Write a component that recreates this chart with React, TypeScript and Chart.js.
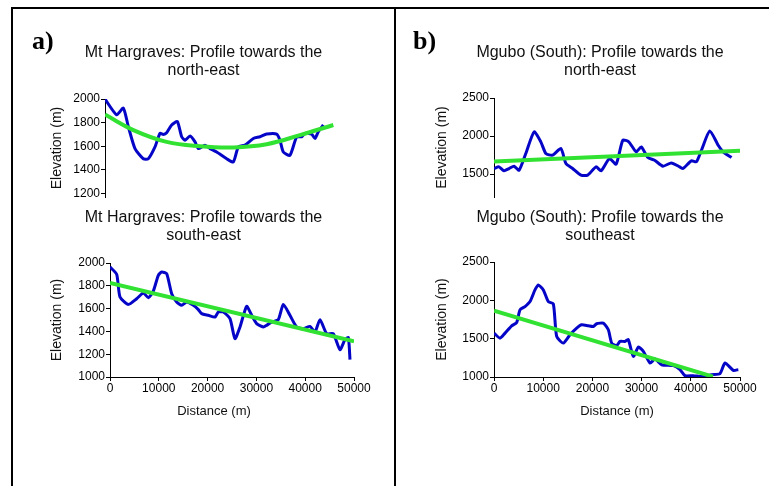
import React, { useEffect, useRef } from "react";
import { Chart, registerables } from "chart.js";

Chart.register(...registerables);

const FONT = '"Liberation Sans", Arial, Helvetica, sans-serif';
const SERIF = '"Liberation Serif", "Times New Roman", serif';

const BLUE = "#0505c8";
const GREEN = "#32e232";

// ---------- Data: (a) Mt Hargraves, north-east ----------
const a1Distance = [0, 2380, 3740, 4760, 6120, 7820, 8840, 10200, 11220, 11900, 12580, 13600, 14760, 15650, 16330, 17350, 18370, 19050, 20400, 21430, 22790, 24830, 26190, 27210, 28570, 30270, 31630, 32990, 35030, 35710, 36390, 37750, 39120, 40140, 40820, 42180, 42860, 43540, 44560];
const a1Elevation = [2000, 1866, 1923, 1766, 1580, 1494, 1494, 1594, 1709, 1700, 1714, 1780, 1809, 1680, 1651, 1686, 1637, 1580, 1609, 1580, 1551, 1494, 1466, 1594, 1609, 1666, 1680, 1703, 1703, 1651, 1551, 1523, 1680, 1680, 1709, 1703, 1666, 1723, 1780];
const a1TrendDistance = [0, 5780, 12580, 19390, 26190, 32990, 39800, 46600];
const a1TrendElevation = [1868, 1737, 1637, 1600, 1590, 1617, 1694, 1780];
const a1YTicks = [1200, 1400, 1600, 1800, 2000];

// ---------- Data: (a) Mt Hargraves, south-east ----------
const a2Distance = [0, 1366, 2050, 3757, 5464, 6830, 7855, 8880, 9900, 10590, 11610, 12640, 13660, 14690, 15710, 17080, 18100, 18780, 20150, 21510, 22200, 23220, 24590, 25610, 26640, 28000, 29030, 30050, 31420, 32100, 33130, 34490, 35520, 36880, 38250, 39610, 40980, 42000, 43030, 44400, 45760, 47130, 48150, 48840, 49180];
const a2Elevation = [1965, 1901, 1702, 1637, 1687, 1737, 1696, 1754, 1892, 1921, 1906, 1731, 1658, 1629, 1658, 1629, 1591, 1556, 1541, 1526, 1570, 1570, 1512, 1336, 1439, 1620, 1541, 1468, 1439, 1453, 1482, 1503, 1637, 1541, 1439, 1424, 1444, 1395, 1503, 1380, 1380, 1240, 1327, 1345, 1152];
const a2TrendDistance = [0, 50000];
const a2TrendElevation = [1825, 1313];
const a2YTicks = [1000, 1200, 1400, 1600, 1800, 2000];

// ---------- Data: (b) Mgubo (South), north-east ----------
const b1Distance = [0, 1020, 2040, 3060, 4080, 5100, 6460, 8160, 9520, 10540, 11900, 13600, 14620, 15980, 17680, 19040, 20740, 21760, 23460, 24820, 26180, 27400, 28900, 29920, 31280, 32640, 34340, 36040, 37740, 38420, 40120, 41140, 42160, 43860, 45560, 46580, 48280];
const b1Elevation = [1574, 1596, 1544, 1574, 1605, 1552, 1771, 2055, 1924, 1771, 1749, 1836, 1640, 1574, 1487, 1487, 1596, 1544, 1705, 1631, 1945, 1924, 1793, 1858, 1718, 1683, 1605, 1648, 1596, 1574, 1675, 1662, 1814, 2068, 1880, 1793, 1718];
const b1TrendDistance = [0, 50000];
const b1TrendElevation = [1666, 1806];
const b1YTicks = [1500, 2000, 2500];

// ---------- Data: (b) Mgubo (South), southeast ----------
const b2Distance = [0, 1220, 2240, 3590, 4610, 5280, 6300, 7320, 8330, 9010, 10030, 11040, 12060, 12740, 14090, 15450, 16800, 17820, 19170, 20190, 20860, 22220, 23240, 23920, 24930, 25610, 26630, 27300, 28320, 29340, 30350, 31710, 32720, 34080, 36450, 37800, 38820, 40510, 42210, 43220, 44240, 45930, 46950, 48640, 49660];
const b2Elevation = [1572, 1507, 1572, 1668, 1711, 1876, 1919, 1984, 2136, 2201, 2136, 1984, 1954, 1529, 1442, 1551, 1637, 1681, 1668, 1659, 1694, 1702, 1616, 1442, 1408, 1464, 1464, 1486, 1269, 1390, 1334, 1182, 1234, 1160, 1148, 1096, 1017, 1017, 1005, 1017, 1030, 1044, 1182, 1087, 1096];
const b2TrendDistance = [0, 44500];
const b2TrendElevation = [1865, 1005];
const b2YTicks = [1000, 1500, 2000, 2500];

const xTickStep = 10000;
const xMax = 50000;

type Spec = {
  left: number;
  top: number;
  width: number;
  height: number;
  title: string[];
  titlePadBottom: number;
  dist: number[];
  elev: number[];
  trendDist: number[];
  trendElev: number[];
  trendTension: number;
  yMin: number;
  yMax: number;
  yTicks: number[];
  yWidth: number;
  yTitlePad: number;
  rightWidth: number;
  showX: boolean;
  xTitle: boolean;
  bottomPad: number;
};

function ChartBox({ spec }: { spec: Spec }) {
  const ref = useRef<HTMLCanvasElement | null>(null);
  useEffect(() => {
    if (!ref.current) return;
    const s = spec;
    const axisGrid = {
      display: true,
      drawOnChartArea: false,
      drawTicks: true,
      tickLength: 4,
      color: "#000",
      lineWidth: 1,
    };
    const chart = new Chart(ref.current, {
      type: "line",
      data: {
        datasets: [
          {
            data: s.trendDist.map((d, i) => ({ x: d, y: s.trendElev[i] })),
            borderColor: GREEN,
            borderWidth: 4,
            pointRadius: 0,
            tension: s.trendTension,
            fill: false,
          },
          {
            data: s.dist.map((d, i) => ({ x: d, y: s.elev[i] })),
            borderColor: BLUE,
            borderWidth: 3,
            pointRadius: 0,
            tension: 0.2,
            fill: false,
          },
        ],
      },
      options: {
        responsive: false,
        animation: false,
        devicePixelRatio: 1,
        events: [],
        layout: { padding: { left: 0, right: 0, top: 0, bottom: s.bottomPad } },
        plugins: {
          legend: { display: false },
          tooltip: { enabled: false },
          title: {
            display: true,
            text: s.title,
            color: "#111",
            font: { family: FONT, size: 16, weight: "normal", lineHeight: 1.125 },
            padding: { top: 4, bottom: s.titlePadBottom },
          },
        },
        scales: {
          x: {
            type: "linear",
            min: 0,
            max: xMax,
            display: s.showX,
            position: "bottom",
            grid: axisGrid,
            border: { display: true, color: "#000", width: 1 },
            ticks: {
              stepSize: xTickStep,
              autoSkip: false,
              maxRotation: 0,
              padding: 0,
              color: "#000",
              font: { family: FONT, size: 12 },
              callback: (v: any) => String(v),
            },
            title: {
              display: s.xTitle,
              text: "Distance (m)",
              color: "#111",
              font: { family: FONT, size: 13 },
              padding: { top: 4, bottom: 4 },
            },
            afterFit: (sc: any) => {
              if (s.showX) sc.height = 46;
            },
          },
          y: {
            type: "linear",
            min: s.yMin,
            max: s.yMax,
            position: "left",
            grid: axisGrid,
            border: { display: true, color: "#000", width: 1 },
            ticks: {
              padding: 1,
              autoSkip: false,
              color: "#000",
              font: { family: FONT, size: 12 },
              callback: (v: any) => String(v),
            },
            afterBuildTicks: (sc: any) => {
              sc.ticks = s.yTicks.map((v) => ({ value: v }));
            },
            title: {
              display: true,
              text: "Elevation (m)",
              color: "#111",
              font: { family: FONT, size: 14 },
              padding: { top: s.yTitlePad, bottom: 4 },
            },
            afterFit: (sc: any) => {
              sc.width = s.yWidth;
              sc.paddingTop = 0;
              sc.paddingBottom = 0;
            },
          },
          yR: {
            type: "linear",
            position: "right",
            display: true,
            grid: { display: false },
            border: { display: false },
            ticks: { display: false },
            afterFit: (sc: any) => {
              sc.width = s.rightWidth;
              sc.paddingTop = 0;
              sc.paddingBottom = 0;
            },
          },
        },
      } as any,
    });
    return () => chart.destroy();
  }, [spec]);
  return (
    <canvas
      ref={ref}
      width={spec.width}
      height={spec.height}
      style={{ position: "absolute", left: spec.left, top: spec.top, width: spec.width, height: spec.height }}
    />
  );
}

const specs: Spec[] = [
  {
    left: 12, top: 40, width: 383, height: 161,
    title: ["Mt Hargraves: Profile towards the", "north-east"], titlePadBottom: 19,
    dist: a1Distance, elev: a1Elevation, trendDist: a1TrendDistance, trendElev: a1TrendElevation, trendTension: 0.4,
    yMin: 1170, yMax: 2000, yTicks: a1YTicks, yWidth: 93, yTitlePad: 37, rightWidth: 45,
    showX: false, xTitle: false, bottomPad: 4,
  },
  {
    left: 12, top: 205, width: 383, height: 218,
    title: ["Mt Hargraves: Profile towards the", "south-east"], titlePadBottom: 18,
    dist: a2Distance, elev: a2Elevation, trendDist: a2TrendDistance, trendElev: a2TrendElevation, trendTension: 0,
    yMin: 1000, yMax: 2000, yTicks: a2YTicks, yWidth: 98, yTitlePad: 37, rightWidth: 41,
    showX: true, xTitle: false, bottomPad: 0,
  },
  {
    left: 396, top: 40, width: 408, height: 161,
    title: ["Mgubo (South): Profile towards the", "north-east"], titlePadBottom: 18,
    dist: b1Distance, elev: b1Elevation, trendDist: b1TrendDistance, trendElev: b1TrendElevation, trendTension: 0,
    yMin: 1200, yMax: 2500, yTicks: b1YTicks, yWidth: 98, yTitlePad: 38, rightWidth: 64,
    showX: false, xTitle: false, bottomPad: 4,
  },
  {
    left: 396, top: 205, width: 408, height: 218,
    title: ["Mgubo (South): Profile towards the", "southeast"], titlePadBottom: 17,
    dist: b2Distance, elev: b2Elevation, trendDist: b2TrendDistance, trendElev: b2TrendElevation, trendTension: 0,
    yMin: 1000, yMax: 2500, yTicks: b2YTicks, yWidth: 98, yTitlePad: 38, rightWidth: 64,
    showX: true, xTitle: true, bottomPad: 0,
  },
];

export default function App() {
  const line = (l: number, t: number, w: number, h: number) => (
    <div style={{ position: "absolute", left: l, top: t, width: w, height: h, background: "#000" }} />
  );
  return (
    <div
      style={{
        position: "absolute",
        left: 0,
        top: 0,
        width: 769,
        height: 486,
        overflow: "hidden",
        background: "#fff",
      }}
    >
      {specs.map((s, i) => (
        <ChartBox key={i} spec={s} />
      ))}
      <div
        style={{
          position: "absolute",
          left: 214,
          top: 403,
          transform: "translateX(-50%)",
          font: `13px ${FONT}`,
          lineHeight: "15px",
          color: "#111",
          whiteSpace: "nowrap",
        }}
      >
        Distance (m)
      </div>
      <div style={{ position: "absolute", left: 32, top: 28, font: `bold 26px ${SERIF}`, lineHeight: 1, color: "#000" }}>a)</div>
      <div style={{ position: "absolute", left: 413, top: 28, font: `bold 26px ${SERIF}`, lineHeight: 1, color: "#000" }}>b)</div>
      {line(11, 7, 758, 2)}
      {line(11, 7, 2, 479)}
      {line(394, 7, 2, 479)}
    </div>
  );
}
